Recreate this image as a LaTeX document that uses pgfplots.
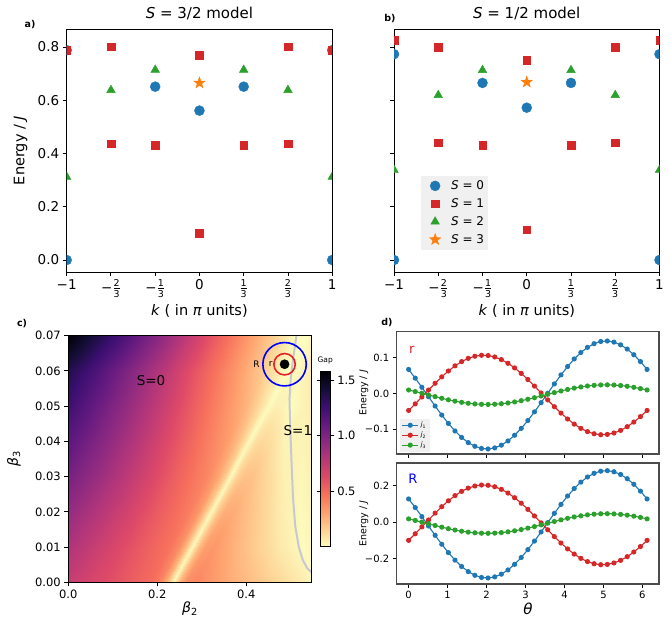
\documentclass[border=0pt]{standalone}
\usepackage{fontspec}
\setmainfont{DejaVu Sans}
\usepackage{amsmath}
\usepackage{pgfplots}
\usepackage{pgfplotstable}
\pgfplotsset{compat=1.18}
\definecolor{C0}{HTML}{1F77B4}
\definecolor{C1}{HTML}{FF7F0E}
\definecolor{C2}{HTML}{2CA02C}
\definecolor{C3}{HTML}{D62728}
\definecolor{bound}{HTML}{C8C8D2}
\definecolor{ringred}{RGB}{228,32,40}
\newcommand{\fs}[1]{\fontsize{#1}{#1}\selectfont}
% filled five-point star, like matplotlib's '*'
\pgfdeclareplotmark{fstar}{%
  \pgfpathmoveto{\pgfqpointpolar{90}{\pgfplotmarksize}}%
  \pgfpathlineto{\pgfqpointpolar{126}{0.4\pgfplotmarksize}}%
  \pgfpathlineto{\pgfqpointpolar{162}{\pgfplotmarksize}}%
  \pgfpathlineto{\pgfqpointpolar{198}{0.4\pgfplotmarksize}}%
  \pgfpathlineto{\pgfqpointpolar{234}{\pgfplotmarksize}}%
  \pgfpathlineto{\pgfqpointpolar{270}{0.4\pgfplotmarksize}}%
  \pgfpathlineto{\pgfqpointpolar{306}{\pgfplotmarksize}}%
  \pgfpathlineto{\pgfqpointpolar{342}{0.4\pgfplotmarksize}}%
  \pgfpathlineto{\pgfqpointpolar{18}{\pgfplotmarksize}}%
  \pgfpathlineto{\pgfqpointpolar{54}{0.4\pgfplotmarksize}}%
  \pgfpathclose\pgfusepathqfillstroke}
\pgfplotsset{
  colormap={magmar}{rgb255=(252,253,191) rgb255=(254,207,146) rgb255=(254,159,109)
    rgb255=(247,112,92) rgb255=(222,73,104) rgb255=(183,55,121) rgb255=(140,41,129)
    rgb255=(100,26,128) rgb255=(59,15,112) rgb255=(20,14,54) rgb255=(0,0,4)},
  base/.style={scale only axis, anchor=south west, tick pos=left, tick align=outside,
    major tick length=4pt, axis line style={line width=0.9pt}, scaled ticks=false,
    every tick/.style={black, line width=0.9pt}},
  spec/.style={base, width=265.5pt, height=243pt, xmin=-1, xmax=1, ymin=-0.045, ymax=0.8675,
    clip marker paths=true,
    xtick={-1,-0.66667,-0.33333,0,0.33333,0.66667,1},
    xticklabels={−1,{−$\frac{\text{2}}{\text{3}}$},{−$\frac{\text{1}}{\text{3}}$},0,
      {$\frac{\text{1}}{\text{3}}$},{$\frac{\text{2}}{\text{3}}$},1},
    ytick={0,0.2,0.4,0.6,0.8},
    ticklabel style={font=\fs{13.5}},
    title style={font=\fs{15}, anchor=base, yshift=5pt},
    xlabel={\textit{k} ( in \textit{π} units)},
    xlabel style={at={(axis description cs:0.5,-0.16)}, anchor=center, font=\fs{14.5}}},
  s0/.style={only marks, mark=*, mark size=5pt, C0, mark options={draw=C0, fill=C0}},
  s1/.style={only marks, mark=square*, mark size=3.8pt, C3, mark options={draw=C3, fill=C3}},
  s2/.style={only marks, mark=triangle*, mark size=5pt, C2, mark options={draw=C2, fill=C2}},
  s3/.style={only marks, mark=fstar, mark size=6pt, C1, mark options={draw=C1, fill=C1, line width=0.4pt}},
  jstyle/.style={base, width=262.3pt, xmin=-0.306, xmax=6.426, xtick={0,1,2,3,4,5,6},
    axis line style={line width=1.1pt, black!70}, ticklabel style={font=\fs{10}},
    ylabel={Energy / \textit{J}},
    ylabel style={at={(axis description cs:-0.1247,0.5)}, anchor=center, font=\fs{9.5}}},
  jline/.style={line width=1.1pt, mark=*, mark size=2pt, #1, mark options={fill=#1, draw=#1}},
}
\pgfplotstableread{
t j1 j2 j3
0.00 0.0671 -0.0479 0.0095
0.17 0.0428 -0.0294 0.0051
0.34 0.0171 -0.0101 0.0004
0.51 -0.0093 0.0093 -0.0044
0.68 -0.0355 0.0283 -0.0091
0.85 -0.0608 0.0463 -0.0137
1.02 -0.0843 0.0628 -0.0180
1.19 -0.1055 0.0772 -0.0218
1.36 -0.1236 0.0891 -0.0251
1.53 -0.1380 0.0982 -0.0277
1.70 -0.1484 0.1042 -0.0296
1.87 -0.1545 0.1069 -0.0307
2.04 -0.1559 0.1061 -0.0310
2.21 -0.1528 0.1021 -0.0304
2.38 -0.1452 0.0948 -0.0290
2.55 -0.1333 0.0844 -0.0269
2.72 -0.1174 0.0714 -0.0240
2.89 -0.0982 0.0561 -0.0205
3.06 -0.0761 0.0389 -0.0165
3.23 -0.0518 0.0204 -0.0121
3.40 -0.0261 0.0011 -0.0074
3.57 0.0003 -0.0183 -0.0026
3.74 0.0265 -0.0373 0.0021
3.91 0.0518 -0.0553 0.0067
4.08 0.0753 -0.0718 0.0110
4.25 0.0965 -0.0862 0.0148
4.42 0.1146 -0.0981 0.0181
4.59 0.1290 -0.1072 0.0207
4.76 0.1394 -0.1132 0.0226
4.93 0.1455 -0.1159 0.0237
5.10 0.1469 -0.1151 0.0240
5.27 0.1438 -0.1111 0.0234
5.44 0.1362 -0.1038 0.0220
5.61 0.1243 -0.0934 0.0199
5.78 0.1084 -0.0804 0.0170
5.95 0.0892 -0.0651 0.0135
6.12 0.0671 -0.0479 0.0095
}\tabsmall
\pgfplotstableread{
t j1 j2 j3
0.00 0.1271 -0.1009 0.0175
0.17 0.0798 -0.0645 0.0089
0.34 0.0296 -0.0266 -0.0003
0.51 -0.0218 0.0116 -0.0097
0.68 -0.0729 0.0490 -0.0190
0.85 -0.1222 0.0845 -0.0281
1.02 -0.1682 0.1169 -0.0365
1.19 -0.2095 0.1453 -0.0440
1.36 -0.2447 0.1688 -0.0504
1.53 -0.2729 0.1867 -0.0556
1.70 -0.2932 0.1985 -0.0593
1.87 -0.3050 0.2037 -0.0614
2.04 -0.3079 0.2023 -0.0620
2.21 -0.3018 0.1943 -0.0609
2.38 -0.2869 0.1799 -0.0581
2.55 -0.2636 0.1596 -0.0539
2.72 -0.2328 0.1339 -0.0483
2.89 -0.1952 0.1037 -0.0414
3.06 -0.1521 0.0699 -0.0335
3.23 -0.1048 0.0335 -0.0249
3.40 -0.0547 -0.0044 -0.0157
3.57 -0.0032 -0.0426 -0.0063
3.74 0.0479 -0.0800 0.0030
3.91 0.0972 -0.1155 0.0121
4.08 0.1432 -0.1479 0.0205
4.25 0.1845 -0.1763 0.0280
4.42 0.2197 -0.1998 0.0344
4.59 0.2479 -0.2177 0.0396
4.76 0.2682 -0.2295 0.0433
4.93 0.2800 -0.2347 0.0454
5.10 0.2829 -0.2333 0.0460
5.27 0.2768 -0.2253 0.0449
5.44 0.2619 -0.2109 0.0421
5.61 0.2386 -0.1906 0.0379
5.78 0.2078 -0.1649 0.0323
5.95 0.1702 -0.1347 0.0254
6.12 0.1271 -0.1009 0.0175
}\tabbig
\begin{document}
\begin{tikzpicture}
\useasboundingbox (0pt,0pt) rectangle (670pt,-620pt);

% a) S=3/2 spectrum
\begin{axis}[spec, at={(66.7pt,-272pt)}, yticklabels={0.0,0.2,0.4,0.6,0.8},
  title={\textit{S} = 3/2 model}, ylabel={Energy / \textit{J}},
  ylabel style={at={(axis description cs:-0.174,0.5)}, anchor=center, font=\fs{14.5}}]
\addplot[s0] coordinates {(-1,0) (1,0) (-1,0.788) (1,0.788) (-0.33333,0.651) (0.33333,0.651) (0,0.561)};
\addplot[s1] coordinates {(-1,0.789) (1,0.789) (-0.66667,0.801) (0.66667,0.801) (0,0.769)
  (-0.66667,0.437) (0.66667,0.437) (-0.33333,0.432) (0.33333,0.432) (0,0.100)};
\addplot[s2] coordinates {(-1,0.312) (1,0.312) (-0.66667,0.638) (0.66667,0.638) (-0.33333,0.714) (0.33333,0.714)};
\addplot[s3] coordinates {(0,0.665)};
\end{axis}

% b) S=1/2 spectrum
\begin{axis}[spec, at={(394pt,-272pt)}, yticklabels={}, title={\textit{S} = 1/2 model},
  legend style={at={(0.1015,0.0905)}, anchor=south west, fill=black!6, draw=none,
    font=\fs{12}, row sep=3.5pt, inner xsep=2pt, inner ysep=3pt},
  legend cell align=left,
  legend image code/.code={\path[draw=none, fill=none] (0pt,-3pt) rectangle (26pt,3pt);
    \draw[#1] plot coordinates {(12pt,0pt)};}]
\addplot[s0] coordinates {(-1,0) (1,0) (-1,0.773) (1,0.773) (-0.33333,0.665) (0.33333,0.665) (0,0.572)};
\addlegendentry{\textit{S} = 0}
\addplot[s1] coordinates {(-1,0.825) (1,0.825) (-0.66667,0.799) (0.66667,0.799) (0,0.751)
  (-0.66667,0.441) (0.66667,0.441) (-0.33333,0.432) (0.33333,0.432) (0,0.114)};
\addlegendentry{\textit{S} = 1}
\addplot[s2] coordinates {(-1,0.338) (1,0.338) (-0.66667,0.619) (0.66667,0.619) (-0.33333,0.713) (0.33333,0.713)};
\addlegendentry{\textit{S} = 2}
\addplot[s3] coordinates {(0,0.668)};
\addlegendentry{\textit{S} = 3}
\end{axis}

% c) gap map
\begin{axis}[base, at={(68.3pt,-582.3pt)}, width=243.4pt, height=246.6pt,
  xmin=0, xmax=0.547, ymin=0, ymax=0.07, axis on top,
  xtick={0,0.2,0.4}, xticklabels={0.0,0.2,0.4},
  ytick={0,0.01,0.02,0.03,0.04,0.05,0.06,0.07},
  yticklabels={0.00,0.01,0.02,0.03,0.04,0.05,0.06,0.07},
  ticklabel style={font=\fs{11.5}},
  xlabel={\textit{β}\textsubscript{2}}, ylabel={\textit{β}\textsubscript{3}},
  xlabel style={at={(axis description cs:0.5,-0.108)}, anchor=center, font=\fs{14}},
  ylabel style={at={(axis description cs:-0.223,0.5)}, anchor=center, font=\fs{14}},
  colormap name=magmar, point meta min=0, point meta max=1.58,
  colorbar, colorbar style={at={([xshift=8.3pt]parent axis.east)}, anchor=west,
    scale only axis, width=10pt, height=175pt, tick align=outside, major tick length=3.5pt,
    ytick={0.5,1,1.5}, yticklabels={0.5,1.0,1.5}, yticklabel style={font=\fs{11.5}},
    axis line style={line width=0.5pt},
    title={Gap}, title style={font=\fs{7.5}, anchor=base, yshift=3pt}}]
\addplot[surf, shader=interp, mesh/cols=20, point meta=explicit] table[x=x, y=y, meta=g] {
x y g
-0.305 0 1.121
-0.205 0 0.993
-0.105 0 0.865
-0.025 0 0.762
0.045 0 0.672
0.105 0 0.596
0.155 0 0.531
0.185 0 0.493
0.205 0 0.410
0.220 0 0.270
0.235 0 0.02
0.250 0 0.260
0.265 0 0.370
0.285 0 0.400
0.315 0 0.350
0.355 0 0.285
0.395 0 0.230
0.435 0 0.173
0.485 0 0.109
0.555 0 0.019

-0.262 0.01 1.234
-0.162 0.01 1.076
-0.062 0.01 0.918
0.018 0.01 0.792
0.088 0.01 0.681
0.148 0.01 0.586
0.198 0.01 0.507
0.228 0.01 0.460
0.248 0.01 0.375
0.263 0.01 0.240
0.278 0.01 0.02
0.293 0.01 0.225
0.308 0.01 0.320
0.328 0.01 0.340
0.358 0.01 0.280
0.398 0.01 0.205
0.438 0.01 0.135
0.478 0.01 0.065
0.528 0.01 0.007
0.598 0.01 0.062

-0.219 0.02 1.317
-0.119 0.02 1.135
-0.019 0.02 0.954
0.061 0.02 0.810
0.131 0.02 0.683
0.191 0.02 0.574
0.241 0.02 0.484
0.271 0.02 0.429
0.291 0.02 0.345
0.306 0.02 0.215
0.321 0.02 0.02
0.336 0.02 0.195
0.351 0.02 0.270
0.371 0.02 0.275
0.401 0.02 0.212
0.441 0.02 0.130
0.481 0.02 0.052
0.521 0.02 0.012
0.571 0.02 0.057
0.641 0.02 0.120

-0.176 0.03 1.390
-0.076 0.03 1.185
0.024 0.03 0.981
0.104 0.03 0.818
0.174 0.03 0.675
0.234 0.03 0.552
0.284 0.03 0.450
0.314 0.03 0.388
0.334 0.03 0.300
0.349 0.03 0.185
0.364 0.03 0.02
0.379 0.03 0.155
0.394 0.03 0.205
0.414 0.03 0.198
0.444 0.03 0.130
0.484 0.03 0.043
0.524 0.03 0.020
0.564 0.03 0.061
0.614 0.03 0.112
0.684 0.03 0.184

-0.133 0.04 1.443
-0.033 0.04 1.215
0.067 0.04 0.987
0.147 0.04 0.805
0.217 0.04 0.645
0.277 0.04 0.508
0.327 0.04 0.394
0.357 0.04 0.326
0.377 0.04 0.240
0.392 0.04 0.140
0.407 0.04 0.015
0.422 0.04 0.105
0.437 0.04 0.127
0.457 0.04 0.102
0.487 0.04 0.030
0.527 0.04 0.031
0.567 0.04 0.076
0.607 0.04 0.122
0.657 0.04 0.179
0.727 0.04 0.259

-0.090 0.05 1.475
0.010 0.05 1.225
0.110 0.05 0.974
0.190 0.05 0.774
0.260 0.05 0.599
0.320 0.05 0.448
0.370 0.05 0.323
0.400 0.05 0.248
0.420 0.05 0.166
0.435 0.05 0.089
0.450 0.05 0.01
0.465 0.05 0.047
0.480 0.05 0.040
0.500 0.05 0.001
0.530 0.05 0.039
0.570 0.05 0.089
0.610 0.05 0.139
0.650 0.05 0.189
0.700 0.05 0.252
0.770 0.05 0.339

-0.047 0.06 1.488
0.053 0.06 1.216
0.153 0.06 0.944
0.233 0.06 0.726
0.303 0.06 0.536
0.363 0.06 0.373
0.413 0.06 0.237
0.443 0.06 0.155
0.463 0.06 0.085
0.478 0.06 0.033
0.493 0.06 0
0.508 0.06 0.006
0.523 0.06 0.026
0.543 0.06 0.058
0.573 0.06 0.099
0.613 0.06 0.154
0.653 0.06 0.208
0.693 0.06 0.262
0.743 0.06 0.330
0.813 0.06 0.426

-0.004 0.07 1.580
0.096 0.07 1.284
0.196 0.07 0.976
0.276 0.07 0.730
0.346 0.07 0.514
0.406 0.07 0.330
0.456 0.07 0.176
0.486 0.07 0.083
0.506 0.07 0.018
0.521 0.07 0.007
0.536 0.07 0
0.551 0.07 0.032
0.566 0.07 0.069
0.586 0.07 0.112
0.616 0.07 0.159
0.656 0.07 0.220
0.696 0.07 0.282
0.736 0.07 0.343
0.786 0.07 0.420
0.856 0.07 0.528
};
\addplot[bound, line width=2pt] coordinates {(0.513,0.0702) (0.507,0.065) (0.500,0.058) (0.497,0.052)
  (0.499,0.043) (0.502,0.033) (0.505,0.024) (0.510,0.016) (0.518,0.010) (0.527,0.0063)
  (0.537,0.004) (0.549,0.0025)};
\addplot[only marks, mark=o, mark size=21.7pt, mark options={draw=blue, line width=1.6pt}] coordinates {(0.486,0.0619)};
\addplot[only marks, mark=o, mark size=10.7pt, mark options={draw=ringred, line width=1.6pt}] coordinates {(0.486,0.0619)};
\addplot[only marks, mark=*, mark size=4.6pt, black] coordinates {(0.486,0.0619)};
\node[font=\fs{13.5}] at (axis cs:0.186,0.0574) {S=0};
\node[font=\fs{13.5}] at (axis cs:0.516,0.0431) {S=1};
\node[font=\fs{9}] at (axis cs:0.423,0.0620) {R};
\node[font=\fs{9}] at (axis cs:0.455,0.0620) {r};
\end{axis}

% d) couplings around the point
\begin{axis}[jstyle, at={(396.7pt,-454pt)}, height=122.3pt, ymin=-0.170, ymax=0.173,
  ytick={-0.1,0,0.1}, yticklabels={−0.1,0.0,0.1}, xticklabels={},
  legend style={at={(0.0126,0.016)}, anchor=south west, fill=black!6, draw=none,
    font=\fs{6.5}, inner sep=1.5pt, row sep=-0.5pt},
  legend cell align=left,
  legend image code/.code={\draw[mark repeat=2,mark phase=2,#1] plot coordinates {(0pt,0pt) (8pt,0pt) (16pt,0pt)};}]
\addplot[jline=C0] table[x=t, y=j1] {\tabsmall};
\addlegendentry{\textit{j}\textsubscript{1}}
\addplot[jline=C3] table[x=t, y=j2] {\tabsmall};
\addlegendentry{\textit{j}\textsubscript{2}}
\addplot[jline=C2] table[x=t, y=j3] {\tabsmall};
\addlegendentry{\textit{j}\textsubscript{3}}
\node[font=\fs{13}, text=ringred] at (axis description cs:0.058,0.85) {r};
\end{axis}

\begin{axis}[jstyle, at={(396.7pt,-584pt)}, height=121pt, ymin=-0.341, ymax=0.325,
  ytick={-0.2,0,0.2}, yticklabels={−0.2,0.0,0.2}, xticklabels={0,1,2,3,4,5,6},
  xlabel={\textit{θ}},
  xlabel style={at={(axis description cs:0.5,-0.2066)}, anchor=center, font=\fs{15}}]
\addplot[jline=C0] table[x=t, y=j1] {\tabbig};
\addplot[jline=C3] table[x=t, y=j2] {\tabbig};
\addplot[jline=C2] table[x=t, y=j3] {\tabbig};
\node[font=\fs{13}, text=blue] at (axis description cs:0.062,0.868) {R};
\end{axis}

\node[font=\bfseries\fs{9.5}] at (30pt,-25pt) {a)};
\node[font=\bfseries\fs{9.5}] at (390pt,-19pt) {b)};
\node[font=\bfseries\fs{9.5}] at (22pt,-324pt) {c)};
\node[font=\bfseries\fs{9.5}] at (387pt,-323pt) {d)};
\end{tikzpicture}
\end{document}
